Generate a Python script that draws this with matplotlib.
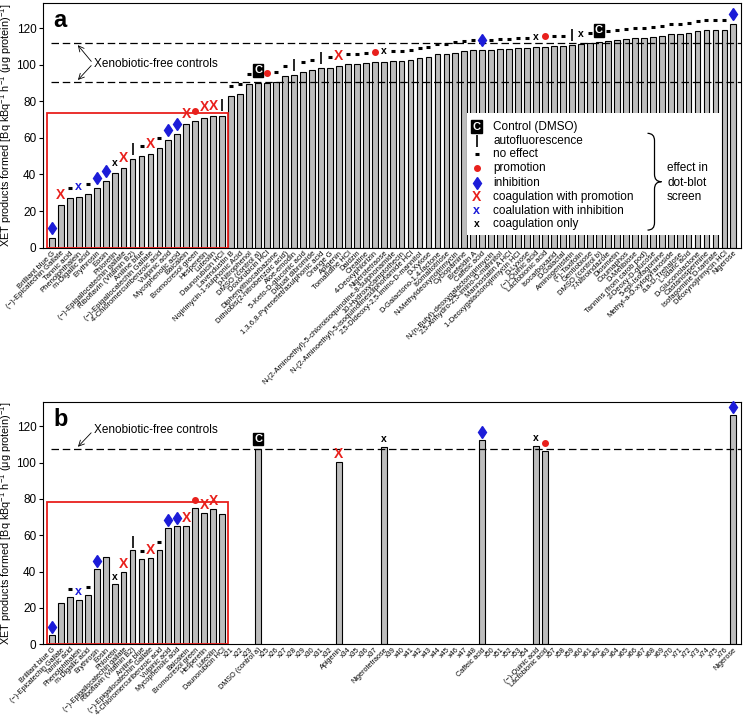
import numpy as np
import matplotlib
matplotlib.use("Agg")
import matplotlib.pyplot as plt
from matplotlib.path import Path
from matplotlib.patches import PathPatch, Rectangle

plt.rcParams['font.family'] = ['Liberation Sans', 'DejaVu Sans']
plt.rcParams['mathtext.default'] = 'regular'

# compounds in screen order (panel a), 77 positions
compounds = [
    "Brilliant blue G", "(\u2212)-Epicatechin Gallate", "Tannic acid", "Phenolphthalein",
    "m-Digallic acid", "Erythrosin", "Eosin", "Phloretin",
    "(\u2212)-Epigallocatechin gallate", "Riboflavin (Vitamin B2)", "Aniline blue",
    "(\u2212)-Epigallocatechin Gallate", "4-Chloromercuribenzoic acid", "Vulpinic acid",
    "Mycophenolic acid", "Baicalein", "Bromocresol green", "Hesperetin", "Luteolin",
    "Daunorubicin HCl", "Lavendustin B", "Nojirimycin-1-sulphonic Acid", "p-Nitrophenol",
    "DMSO (control a)", "Doxorubicin HCl", "Diphenylthiocarbazone",
    "Dithiobis(2-nitrobenzoic acid)", "Aloe-emodin", "5-Keto-D-gluconic acid",
    "Diquat dibromide", "1,3,6,8-Pyrenetetrasulphonic acid", "Orange G", "Apigenin",
    "Tomatidine HCl", "Daidzin", "Creatine", "4-Deoxyphlorizin", "Nigerotetraose",
    "N-(2-Aminoethyl)-5-chloroisoquinoline-8-sulphonamide", "10-Hydroxycamptothecin",
    "N-(2-Aminoethyl)-5-isoquinolinesulphonamide HCl", "2,5-Dideoxy-2,5-imino-D-mannitol",
    "D-Xylose", "D-Galactono-1,4-lactone", "Isomaltotriose", "N-Methyldeoxynojirimycin",
    "Cyclopamine", "Brefeldin A", "Caffeic acid", "N-(n-Butyl)-deoxygalactonojirimycin",
    "2,5-Anhydro-2,5-imino-D-mannitol", "Mannostatin A HCl",
    "1-Deoxygalactonojirimycin HCl", "D-Lyxose", "(\u2212)-Quinic acid", "Lactobionic acid",
    "Isocarboxazid", "D-Galactal", "Aminogenistein", "(+)-Taxifolin", "Gentiobiose",
    "DMSO (control b)", "7-Nitroindazole", "Diosmetin", "Coumaphos", "D-Melibiose",
    "Tannins (from carob pod)", "2-Deoxy-D-glucose", "5-epi-Isofagomine",
    "Methyl-a-D-xylopyranoside", "a,a-D-Trehalose", "L-Idaric acid", "D-Gluconolactone",
    "Castanospermine", "Isofagomine D-tartrate", "Deoxynojirimycin HCl", "Nigerose",
]

xet_a = [
    5.1, 23.3, 27.0, 27.5, 29.3, 32.4, 36.6, 40.6, 43.3, 48.2,
    50.0, 51.1, 54.2, 58.8, 61.9, 67.3, 69.3, 71.1, 71.7, 72.2,
    82.8, 83.8, 89.2, 90.2, 90.2, 90.6, 93.7, 94.4, 95.9, 96.9,
    98.2, 98.4, 99.1, 100.2, 100.5, 100.8, 101.2, 101.7, 101.8, 101.9,
    102.4, 103.5, 104.2, 105.7, 106.0, 106.6, 107.5, 107.9, 107.9, 108.1,
    108.3, 108.5, 108.9, 109.3, 109.7, 109.9, 110.1, 110.3, 110.6, 111.1,
    111.7, 112.1, 112.9, 113.5, 113.8, 114.7, 114.7, 115.3, 115.5, 116.7,
    116.8, 117.3, 118.2, 118.9, 118.9, 118.9, 122.4,
]

# effect in dot-blot screen: C control, | autofluorescence, - no effect, o promotion,
# d inhibition, X coag.+promotion, xb coag.+inhibition, xk coagulation only
effect_a = [
    'd', 'X', '-', 'xb', '-', 'd', 'd', 'xk', 'X', '|',
    '-', 'X', '-', 'd', 'd', 'X', 'o', 'X', 'X', '|',
    '-', '-', '-', 'C', 'o', '-', '-', '|', '-', '-',
    '|', '-', 'X', '-', '-', '-', 'o', 'xk', '-', '-',
    '-', '-', '-', '-', '-', '-', '-', '-', 'd', '-',
    '-', '-', '-', '-', 'xk', 'o', '-', '-', '|', 'xk',
    '-', 'C', '-', '-', '-', '-', '-', '-', '-', '-',
    '-', '-', '-', '-', '-', '-', 'd',
]

xet_b = [
    5.0, 23.0, 26.0, 24.5, 27.0, 41.5, 48.0, 33.0, 40.0, 52.0,
    47.0, 47.5, 52.0, 64.0, 65.0, 65.0, 75.0, 72.5, 74.4, 71.8,
    None, None, None, 107.4, None, None, None, None, None, None,
    None, None, 100.3, None, None, None, None, 108.5, None, None,
    None, None, None, None, None, None, None, None, 112.4, None,
    None, None, None, None, 109.1, 106.3, None, None, None, None,
    None, None, None, None, None, None, None, None, None, None,
    None, None, None, None, None, None, 126.2,
]

effect_b = [
    'd', '', '-', 'xb', '-', 'd', '', 'xk', 'X', '|',
    '-', 'X', '-', 'd', 'd', 'X', 'o', 'X', 'X', '',
    '', '', '', 'C', '', '', '', '', '', '',
    '', '', 'X', '', '', '', '', 'xk', '', '',
    '', '', '', '', '', '', '', '', 'd', '',
    '', '', '', '', 'xk', 'o', '', '', '', '',
    '', '', '', '', '', '', '', '', '', '',
    '', '', '', '', '', '', 'd',
]

labels_b = [name if v is not None else "x%d" % (i + 1)
            for i, (name, v) in enumerate(zip(compounds, xet_b))]

controls_a = [111.8, 90.5]
controls_b = [107.6]

legend_items = ['C', '|', '-', 'o', 'd', 'X', 'xb', 'xk']
legend_text = ["Control (DMSO)", "autofluorescence", "no effect", "promotion",
               "inhibition", "coagulation with promotion", "coalulation with inhibition",
               "coagulation only"]

RED = '#e8201c'
BLUE = '#1c1cd8'
GREY = '#bdbdbd'


def mark(ax, x, y, e, tr=None):
    if tr is None:
        tr = ax.transData
    kw = dict(transform=tr, zorder=6, clip_on=False)
    if e == 'C':
        ax.text(x, y, 'C', color='white', fontsize=8, fontweight='bold', ha='center',
                va='center', bbox=dict(boxstyle='square,pad=0.12', fc='black', ec='black'), **kw)
    elif e == '|':
        ax.plot([x], [y], marker='|', ms=9, mew=1.2, color='k', **kw)
    elif e == '-':
        ax.plot([x], [y], marker='_', ms=3.5, mew=2.2, color='k', **kw)
    elif e == 'o':
        ax.plot([x], [y], marker='o', ms=4, color=RED, mec=RED, **kw)
    elif e == 'd':
        ax.plot([x], [y], marker='d', ms=6, color=BLUE, mec=BLUE, **kw)
    elif e == 'X':
        ax.text(x, y, 'X', color=RED, fontsize=10, fontweight='bold', ha='center', va='center', **kw)
    elif e == 'xb':
        ax.text(x, y, 'x', color=BLUE, fontsize=9, fontweight='bold', ha='center', va='center', **kw)
    elif e == 'xk':
        ax.text(x, y, 'x', color='k', fontsize=7.5, fontweight='bold', ha='center', va='center', **kw)


def panel(ax, vals, effects, labels, ctrl, off, box_top, letter, lab_size):
    pos = np.arange(1, len(vals) + 1)
    xs = [p for p, v in zip(pos, vals) if v is not None]
    hs = [v for v in vals if v is not None]
    ax.bar(xs, hs, width=0.65, color=GREY, edgecolor='black', linewidth=0.8, zorder=2)
    for p, v, e in zip(pos, vals, effects):
        if v is None or e == '':
            continue
        mark(ax, p, v + (off + 1.2 if e == 'C' else off), e)
    for c in ctrl:
        ax.plot([0.9, 77.85], [c, c], color='black', lw=0.9, ls=(0, (6, 3)), zorder=4)
    ax.add_patch(Rectangle((0.45, 0), 20.15, box_top, fill=False, ec=RED, lw=1.3, zorder=5))
    ax.set_xlim(0.05, 77.85)
    ax.set_ylim(0, 133.5)
    ax.set_yticks(np.arange(0, 121, 20))
    ax.set_xticks(pos)
    ax.set_xticklabels(labels, rotation=45, ha='right', va='top', rotation_mode='anchor',
                       fontsize=lab_size)
    ax.tick_params(axis='x', length=0, pad=1.5)
    ax.tick_params(axis='y', labelsize=8.5, length=3, pad=2, direction='out')
    ax.set_ylabel(r'XET products formed [Bq kBq$^{-1}$ h$^{-1}$ ($\mu$g protein)$^{-1}$]', fontsize=7.8)
    ax.yaxis.set_label_coords(-0.0415, 0.5)
    ax.text(0.014, 0.975, letter, transform=ax.transAxes, fontsize=17, fontweight='bold', va='top')


fig = plt.figure(figsize=(7.44, 7.18), dpi=100)
ax_a = fig.add_axes([0.0582, 0.655, 0.9378, 0.3404])
ax_b = fig.add_axes([0.0582, 0.1026, 0.9378, 0.3379])

panel(ax_a, xet_a, effect_a, compounds, controls_a, 5.5, 73.6, 'a', 5.5)
panel(ax_b, xet_b, effect_b, labels_b, controls_b, 4.3, 78.2, 'b', 5.2)

# xenobiotic-free control labels
ax_a.text(5.7, 100.6, "Xenobiotic-free controls", fontsize=8.5, va='center')
for c in controls_a:
    ax_a.annotate('', xy=(3.7, c), xytext=(5.6, 100.6),
                  arrowprops=dict(arrowstyle='->', lw=0.6, color='black'))
ax_b.text(5.7, 118, "Xenobiotic-free controls", fontsize=8.5, va='center')
ax_b.annotate('', xy=(3.7, controls_b[0]), xytext=(5.6, 117.5),
              arrowprops=dict(arrowstyle='->', lw=0.6, color='black'))

# legend box in panel a
ax_a.add_patch(Rectangle((0.607, 0.052), 0.363, 0.498, transform=ax_a.transAxes,
                         fc='white', ec='none', zorder=5))
rows = [0.495, 0.438, 0.382, 0.325, 0.266, 0.209, 0.151, 0.096]
for y, e, t in zip(rows, legend_items, legend_text):
    mark(ax_a, 0.621, y, e, ax_a.transAxes)
    ax_a.text(0.645, y, t, transform=ax_a.transAxes, fontsize=8.5, va='center', zorder=6)
for y, t in zip([0.325, 0.266, 0.209], ["effect in", "dot-blot", "screen"]):
    ax_a.text(0.894, y, t, transform=ax_a.transAxes, fontsize=8.5, va='center', zorder=6)

x0, xm, xt = 0.866, 0.876, 0.886
yt, yb, ym = 0.468, 0.072, 0.27
verts = [(x0, yt), (xm, yt), (xm, yt - 0.03), (xm, ym + 0.03), (xm, ym), (xt, ym),
         (xm, ym), (xm, ym - 0.03), (xm, yb + 0.03), (xm, yb), (x0, yb)]
codes = [Path.MOVETO, Path.CURVE3, Path.CURVE3, Path.LINETO, Path.CURVE3, Path.CURVE3,
         Path.CURVE3, Path.CURVE3, Path.LINETO, Path.CURVE3, Path.CURVE3]
ax_a.add_patch(PathPatch(Path(verts, codes), transform=ax_a.transAxes, fill=False,
                         lw=0.9, ec='black', zorder=6))

fig.savefig("out.png", dpi=100)
